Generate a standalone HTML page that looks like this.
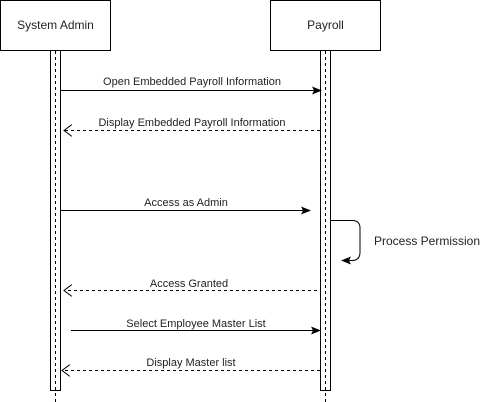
<!DOCTYPE html>
<html><head><meta charset="utf-8"><style>
html,body{margin:0;padding:0;background:#fff;width:493px;height:402px;overflow:hidden}
svg text{font-family:"Liberation Sans",Arial,sans-serif;font-size:11px;fill:#222}
</style></head><body>
<svg width="493" height="402" viewBox="0 0 493 402" xmlns="http://www.w3.org/2000/svg">
<defs>
<marker id="f" markerWidth="10" markerHeight="8" refX="9" refY="4" orient="auto" markerUnits="userSpaceOnUse"><path d="M0,0 L10,4 L0,8 L2,4 Z" fill="#000"/></marker>
<marker id="o" markerWidth="10" markerHeight="12" refX="8" refY="6" orient="auto" markerUnits="userSpaceOnUse"><path d="M0,0 L8,6 L0,12" fill="none" stroke="#000" stroke-width="1"/></marker>
</defs>
<rect x="0.5" y="0.5" width="110" height="50" fill="#fff" stroke="#000"/>
<text x="55.5" y="29" text-anchor="middle" style="font-size:12px">System Admin</text>
<rect x="270.5" y="0.5" width="110" height="50" fill="#fff" stroke="#000"/>
<text x="325.5" y="29" text-anchor="middle" style="font-size:12px">Payroll</text>
<rect x="50.5" y="50.5" width="10" height="340" fill="#fff" stroke="#000"/>
<rect x="320.5" y="50.5" width="10" height="340" fill="#fff" stroke="#000"/>
<line x1="55.5" y1="51" x2="55.5" y2="402" stroke="#000" stroke-dasharray="3,3"/>
<line x1="325.5" y1="51" x2="325.5" y2="402" stroke="#000" stroke-dasharray="3,3"/>
<line x1="61" y1="90.5" x2="321" y2="90.5" stroke="#000" marker-end="url(#f)"/>
<text x="192" y="85" text-anchor="middle">Open Embedded Payroll Information</text>
<line x1="320" y1="130.5" x2="64" y2="130.5" stroke="#000" stroke-dasharray="3,3" marker-end="url(#o)"/>
<text x="192" y="126" text-anchor="middle">Display Embedded Payroll Information</text>
<line x1="61" y1="210.5" x2="310" y2="210.5" stroke="#000" marker-end="url(#f)"/>
<text x="186" y="206" text-anchor="middle">Access as Admin</text>
<path d="M331,220.5 H352 Q360,220.5 360,228 V252 Q360,260.5 352,260.5 H342" fill="none" stroke="#000" marker-end="url(#f)"/>
<text x="374" y="245" style="font-size:12px">Process Permission</text>
<line x1="317" y1="290.5" x2="64" y2="290.5" stroke="#000" stroke-dasharray="3,3" marker-end="url(#o)"/>
<text x="189" y="287" text-anchor="middle">Access Granted</text>
<line x1="71" y1="330.5" x2="320" y2="330.5" stroke="#000" marker-end="url(#f)"/>
<text x="196" y="327" text-anchor="middle">Select Employee Master List</text>
<line x1="320" y1="370.5" x2="62" y2="370.5" stroke="#000" stroke-dasharray="3,3" marker-end="url(#o)"/>
<text x="191" y="366" text-anchor="middle">Display Master list</text>
</svg>
</body></html>
